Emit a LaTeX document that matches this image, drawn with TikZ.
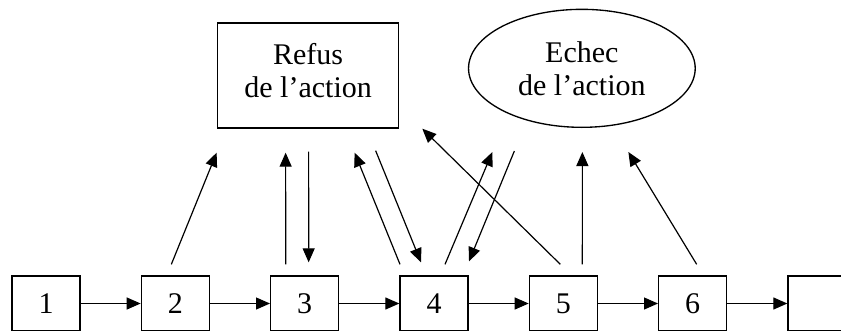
\documentclass[tikz,border=0pt]{standalone}
\usepackage{fontspec}
\setmainfont{Liberation Serif}
\usetikzlibrary{shapes.geometric,positioning,arrows.meta}

\begin{document}
\begin{tikzpicture}[x=0.75pt, y=0.75pt, node distance=45pt,
    >={Triangle[length=10.5pt,width=9pt]},
    font=\fontsize{22.5}{24.75}\selectfont,
    every text node part/.style={align=center},
    etape/.style={draw, line width=1pt, minimum width=51pt, minimum height=41.25pt, inner sep=0pt},
    fleche/.style={->, line width=0.9pt}]
	\useasboundingbox (0,0) rectangle (841,330);
	% la suite des etapes
	\node [etape] (1) at (46,26.5) {1};
	\node [etape, right=of 1] (2) {2};
	\node [etape, right=of 2] (3) {3};
	\node [etape, right=of 3] (4) {4};
	\node [etape, right=of 4] (5) {5};
	\node [etape, right=of 5] (6) {6};
	\node [etape, right=of 6] (7) {};
	\node [draw, line width=1pt, minimum width=135.75pt, minimum height=78.75pt, inner sep=0pt, above=110pt of 3, xshift=2.6pt] (refus) {Refus \\ de l’action \\[-17pt]};
	\node [draw, ellipse, line width=1pt, minimum width=170pt, minimum height=88.5pt, inner sep=0pt, above=110.5pt of 5, xshift=13.9pt] (echec) {Echec \\ de l’action};
	\foreach \a/\b in {1/2, 2/3, 3/4, 4/5, 5/6, 6/7}
		\draw [fleche] (\a.east) -- (\b.west);
	% vers le refus
	\draw [fleche] ([shift={(-4,11)}]2.north) -- ([shift={(-91.5,-24)}]refus.south);
	\draw [fleche] ([shift={(-19,11)}]3.north) -- ([shift={(-22.5,-24)}]refus.south);
	\draw [fleche] ([shift={(0.5,-23)}]refus.south) -- ([shift={(4,13)}]3.north);
	\draw [fleche] ([shift={(-34,11)}]4.north) -- ([shift={(46.5,-24)}]refus.south);
	\draw [fleche] ([shift={(67.5,-22)}]refus.south) -- ([shift={(-13,13)}]4.north);
	\draw [fleche] ([shift={(-3,11)}]5.north) -- ([shift={(23,0)}]refus.south east);
	% vers l'echec
	\draw [fleche] ([shift={(11,11)}]4.north) -- ([shift={(-89.5,-24)}]echec.south);
	\draw [fleche] ([shift={(-67.5,-23)}]echec.south) -- ([shift={(35,14)}]4.north);
	\draw [fleche] ([shift={(19,11)}]5.north) -- ([shift={(0.5,-24)}]echec.south);
	\draw [fleche] ([shift={(4,11)}]6.north) -- ([shift={(46.5,-24)}]echec.south);
\end{tikzpicture}
\end{document}
